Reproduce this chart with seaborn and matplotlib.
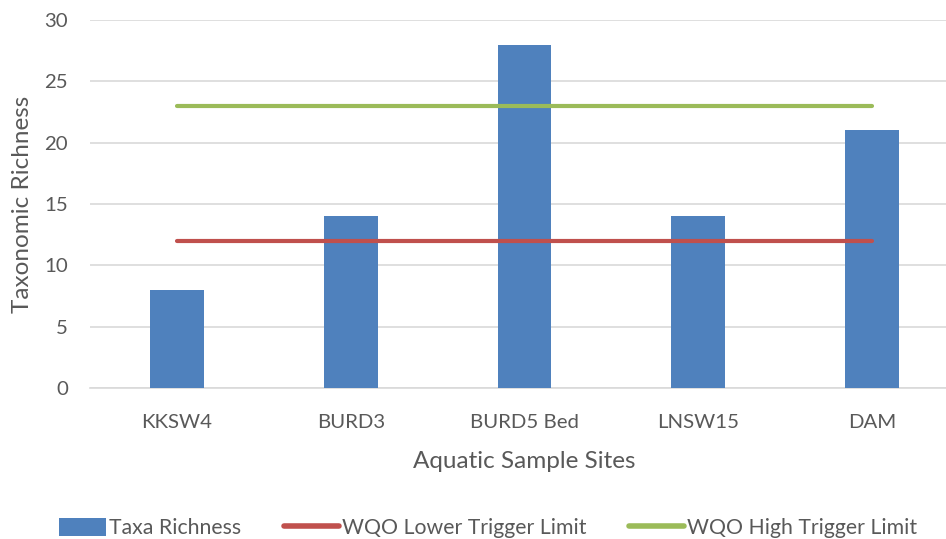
import matplotlib
matplotlib.use("Agg")
import matplotlib.pyplot as plt
import seaborn as sns
import pandas as pd
import numpy as np
from matplotlib.patches import Patch, Rectangle
from matplotlib.lines import Line2D
from matplotlib.legend_handler import HandlerPatch

sites = ["KKSW4", "BURD3", "BURD5 Bed", "LNSW15", "DAM"]
taxa_richness = [8, 14, 28, 14, 21]
wqo_lower = [12, 12, 12, 12, 12]
wqo_high = [23, 23, 23, 23, 23]
y_ticks = [0, 5, 10, 15, 20, 25, 30]

BLUE = "#4F81BD"
RED = "#C0504D"
GREEN = "#9BBB59"
TEXT = "#595959"
GRID = "#D9D9D9"

sns.set_theme(style="white")
plt.rcParams["font.family"] = ["Lato", "DejaVu Sans"]

fig = plt.figure(figsize=(9.46, 5.39), dpi=100)
ax = fig.add_axes([90 / 946, 1 - 388 / 539, 869 / 946, 368 / 539])

df = pd.DataFrame({"site": sites, "richness": taxa_richness})
sns.barplot(data=df, x="site", y="richness", color=BLUE, saturation=1,
            width=0.31, linewidth=0, edgecolor="none", ax=ax, zorder=3)

xpos = np.arange(len(sites))
ax.plot(xpos, wqo_lower, color=RED, lw=3.0, solid_capstyle="round", zorder=4)
ax.plot(xpos, wqo_high, color=GREEN, lw=3.0, solid_capstyle="round", zorder=4)

ax.set_xlim(-0.5, len(sites) - 0.5)
ax.set_ylim(0, 30)
ax.set_yticks(y_ticks)
ax.yaxis.grid(True, color=GRID, lw=1.2, zorder=0)
ax.set_axisbelow(True)
for s in ["top", "right", "left"]:
    ax.spines[s].set_visible(False)
ax.spines["bottom"].set_color(GRID)
ax.spines["bottom"].set_linewidth(1.2)
ax.tick_params(axis="both", length=0, labelsize=14.7, colors=TEXT)
ax.tick_params(axis="y", pad=16)
ax.tick_params(axis="x", pad=19)

ax.set_xlabel("Aquatic Sample Sites", fontsize=17.5, color=TEXT, labelpad=14)
ax.set_ylabel("Taxonomic Richness", fontsize=17.5, color=TEXT, labelpad=8)


def narrow_patch(legend, orig_handle, xdescent, ydescent, width, height, fontsize):
    w = width * 0.85
    return Rectangle((width - w - xdescent, -ydescent), w, height)


handles = [
    Patch(facecolor=BLUE, edgecolor="none"),
    Line2D([0], [0], color=RED, lw=4, solid_capstyle="round"),
    Line2D([0], [0], color=GREEN, lw=4, solid_capstyle="round"),
]
labels = ["Taxa Richness", "WQO Lower Trigger Limit", "WQO High Trigger Limit"]
fig.legend(handles, labels, loc="center", bbox_to_anchor=(484 / 946, 1 - 528 / 539),
           ncol=3, frameon=False, fontsize=15.3, labelcolor=TEXT,
           handlelength=2.6, handleheight=0.9, handletextpad=0.15, columnspacing=2.0,
           handler_map={Patch: HandlerPatch(patch_func=narrow_patch)})

fig.savefig("out.png", dpi=100)
